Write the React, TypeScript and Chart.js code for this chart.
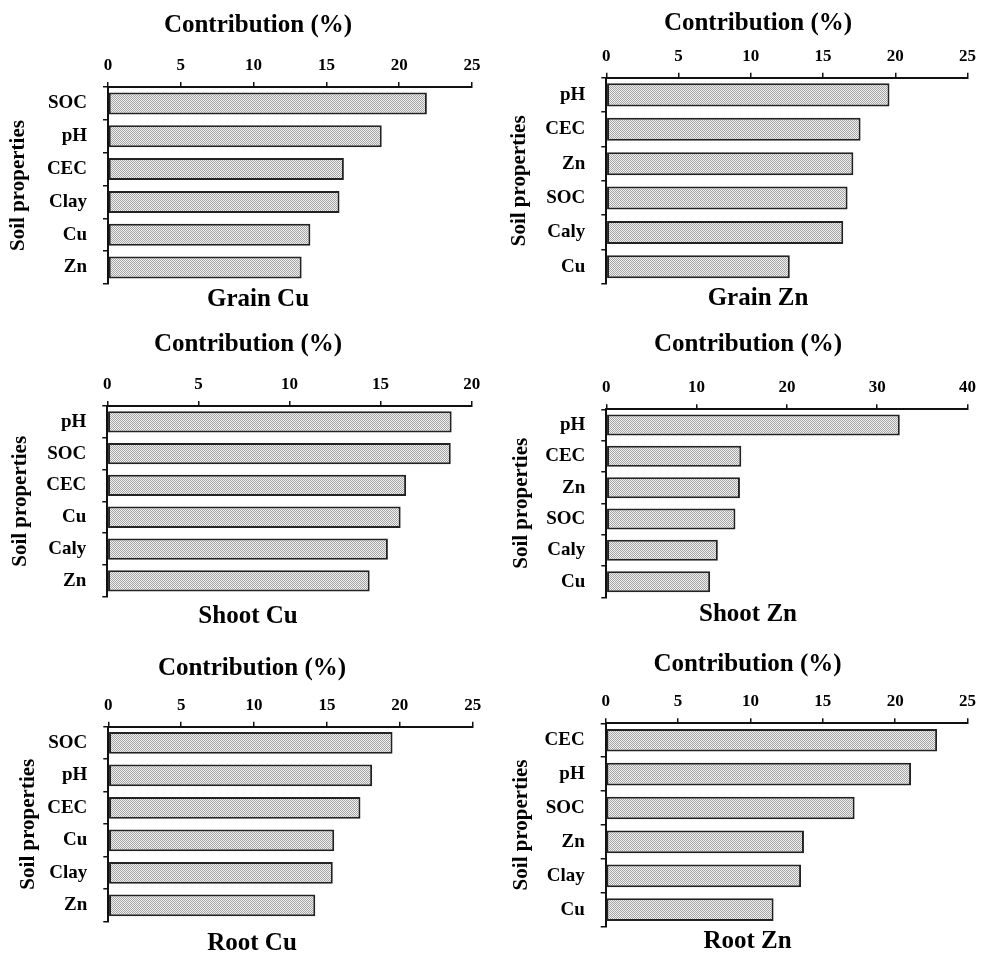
import React, { useEffect, useRef } from 'react';
import { Chart, registerables } from 'chart.js';

Chart.register(...registerables);

// ---------- data ----------
const grainCuLabels = ['SOC', 'pH', 'CEC', 'Clay', 'Cu', 'Zn'];
const grainCuValues = [21.9, 18.8, 16.2, 15.9, 13.9, 13.3];

const grainZnLabels = ['pH', 'CEC', 'Zn', 'SOC', 'Caly', 'Cu'];
const grainZnValues = [19.6, 17.6, 17.1, 16.7, 16.4, 12.7];

const shootCuLabels = ['pH', 'SOC', 'CEC', 'Cu', 'Caly', 'Zn'];
const shootCuValues = [18.9, 18.85, 16.4, 16.1, 15.4, 14.4];

const shootZnLabels = ['pH', 'CEC', 'Zn', 'SOC', 'Caly', 'Cu'];
const shootZnValues = [32.5, 14.95, 14.8, 14.3, 12.35, 11.5];

const rootCuLabels = ['SOC', 'pH', 'CEC', 'Cu', 'Clay', 'Zn'];
const rootCuValues = [19.5, 18.1, 17.3, 15.5, 15.4, 14.2];

const rootZnLabels = ['CEC', 'pH', 'SOC', 'Zn', 'Clay', 'Cu'];
const rootZnValues = [22.9, 21.1, 17.2, 13.7, 13.5, 11.6];

const panelNames = ['Grain Cu', 'Grain Zn', 'Shoot Cu', 'Shoot Zn', 'Root Cu', 'Root Zn'];
const axisMax = [25, 25, 20, 40, 25, 25];
const axisStep = [5, 5, 5, 10, 5, 5];
const topTitle = 'Contribution (%)';
const yTitle = 'Soil properties';

const panelLabels = [grainCuLabels, grainZnLabels, shootCuLabels, shootZnLabels, rootCuLabels, rootZnLabels];
const panelValues = [grainCuValues, grainZnValues, shootCuValues, shootZnValues, rootCuValues, rootZnValues];

// ---------- layout (positions / sizes) ----------
type Lay = {
  x0: number; y0: number; w: number; h: number;
  padL: number; padR: number; yW: number; xH: number;
  tTop: number; sTop: number; sBot: number; yPad: number;
};
const layouts: Lay[] = [
  { x0: 0, y0: 0, w: 490, h: 320, padL: 44, padR: 18, yW: 64, xH: 46, tTop: 11, sTop: 1, sBot: 5, yPad: -37.6 },
  { x0: 490, y0: 0, w: 492, h: 320, padL: 55.7, padR: 11.7, yW: 60.6, xH: 38.7, tTop: 9, sTop: 0, sBot: 6, yPad: -38.3 },
  { x0: 0, y0: 320, w: 490, h: 320, padL: 24.3, padR: 18.3, yW: 83, xH: 46, tTop: 10, sTop: 5, sBot: 8.3, yPad: -16.8 },
  { x0: 490, y0: 320, w: 492, h: 320, padL: 35.3, padR: 11.3, yW: 81, xH: 49.3, tTop: 10, sTop: 2.7, sBot: 10, yPad: -16.1 },
  { x0: 0, y0: 640, w: 490, h: 314, padL: 31.3, padR: 17.3, yW: 77, xH: 42.7, tTop: 14, sTop: 6.6, sBot: -4.3, yPad: -15.4 },
  { x0: 490, y0: 640, w: 492, h: 314, padL: 35, padR: 12, yW: 80.7, xH: 43.3, tTop: 10, sTop: 0, sBot: -4.3, yPad: -15.8 },
];

const FONT = '"Liberation Serif", "Times New Roman", serif';

function makePattern(): CanvasPattern | string {
  const c = document.createElement('canvas');
  c.width = 2;
  c.height = 2;
  const g = c.getContext('2d');
  if (!g) return '#cccccc';
  g.fillStyle = '#f1f1f1';
  g.fillRect(0, 0, 2, 2);
  g.fillStyle = '#a4a4a4';
  g.fillRect(0, 0, 1, 1);
  g.fillRect(1, 1, 1, 1);
  const p = g.createPattern(c, 'repeat');
  return p || '#cccccc';
}

function Panel({ idx }: { idx: number }) {
  const ref = useRef<HTMLCanvasElement | null>(null);
  const L = layouts[idx];
  useEffect(() => {
    if (!ref.current) return;
    const pattern = makePattern();
    const chart = new Chart(ref.current, {
      type: 'bar',
      data: {
        labels: panelLabels[idx],
        datasets: [
          {
            data: panelValues[idx],
            backgroundColor: pattern as any,
            borderColor: '#222',
            borderWidth: 2,
            borderSkipped: false,
            barPercentage: 0.67,
            categoryPercentage: 1,
          },
        ],
      },
      options: {
        indexAxis: 'y',
        responsive: false,
        animation: false,
        layout: { padding: { left: L.padL, right: L.padR, top: 0, bottom: 0 } },
        plugins: {
          legend: { display: false },
          tooltip: { enabled: false },
          title: {
            display: true,
            text: topTitle,
            position: 'top',
            color: '#000',
            font: { family: FONT, size: 25, weight: 'bold' },
            padding: { top: L.tTop, bottom: 0 },
          },
          subtitle: {
            display: true,
            text: panelNames[idx],
            position: 'bottom',
            color: '#000',
            font: { family: FONT, size: 25, weight: 'bold' },
            padding: { top: L.sTop, bottom: L.sBot },
          },
        },
        scales: {
          x: {
            type: 'linear',
            position: 'top',
            min: 0,
            max: axisMax[idx],
            ticks: {
              stepSize: axisStep[idx],
              color: '#000',
              font: { family: FONT, size: 17, weight: 'bold' },
              padding: 6,
              maxRotation: 0,
            },
            grid: {
              drawOnChartArea: false,
              drawTicks: true,
              tickLength: 5,
              color: '#111',
              lineWidth: 1.5,
            },
            border: { display: true, color: '#111', width: 2 },
            afterFit: (s: any) => {
              s.height = L.xH;
            },
          },
          y: {
            type: 'category',
            ticks: {
              color: '#000',
              font: { family: FONT, size: 19, weight: 'bold' },
              padding: 16,
            },
            grid: {
              drawOnChartArea: false,
              drawTicks: true,
              tickLength: 5,
              color: '#111',
              lineWidth: 1.5,
              offset: true,
            },
            border: { display: true, color: '#111', width: 2 },
            title: {
              display: true,
              text: yTitle,
              color: '#000',
              font: { family: FONT, size: 21, weight: 'bold' },
              padding: { top: L.yPad, bottom: 0 },
            },
            afterFit: (s: any) => {
              s.width = L.yW;
            },
          },
        },
      } as any,
    });
    return () => chart.destroy();
  }, [idx]);
  return (
    <canvas
      ref={ref}
      width={L.w}
      height={L.h}
      style={{ position: 'absolute', left: L.x0, top: L.y0, width: L.w, height: L.h, display: 'block' }}
    />
  );
}

export default function App() {
  return (
    <div style={{ position: 'absolute', left: 0, top: 0, width: 982, height: 954, background: '#fff', overflow: 'hidden' }}>
      {layouts.map((_, i) => (
        <Panel key={i} idx={i} />
      ))}
    </div>
  );
}
